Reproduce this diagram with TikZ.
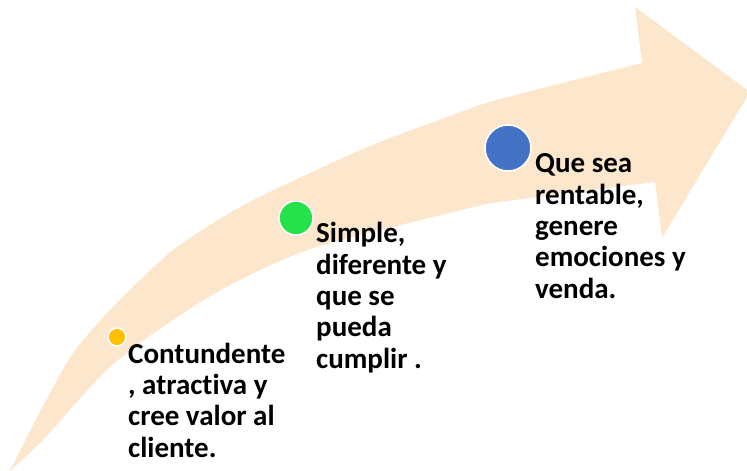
\documentclass[tikz,border=0pt]{standalone}
\usepackage{fontspec}
\setmainfont{Carlito}[Ligatures=NoCommon]
\begin{document}
\begin{tikzpicture}[x=1pt,y=-1pt,
  dot/.style={circle,draw=white,line width=1.5pt,inner sep=0pt},
  lbl/.style={anchor=base west,align=left,inner sep=0pt,font=\fontsize{29}{31.3}\selectfont\bfseries,text=black}]
\definecolor{band}{HTML}{FDE7CC}
\definecolor{dotyellow}{HTML}{FFC000}
\definecolor{dotgreen}{HTML}{26E24A}
\definecolor{dotblue}{HTML}{4472C4}
\useasboundingbox (0,0) rectangle (747,471);
\begin{scope}
\clip (0,0) rectangle (747,471);
\fill[band] plot[smooth,tension=0.5] coordinates {(10,471) (31,429) (50,393) (73,353) (107,313) (140,280) (173,250) (207,227) (240,207) (280,187) (370,146) (450,116) (500,99) (642,63)}
  -- (635,7) -- (750,92) -- (662,238) -- (655,182)
  -- plot[smooth,tension=0.5] coordinates {(655,182) (500,202) (470,208) (330,243) (280,261) (240,280) (207,298) (173,320) (140,343) (110,367) (83,395) (43,440) (10,471)} -- cycle;
\end{scope}
\node[dot,fill=dotyellow,minimum size=18pt] (d1) at (117,337) {};
\node[dot,fill=dotgreen,minimum size=34pt] (d2) at (296,218) {};
\node[dot,fill=dotblue,minimum size=46pt] (d3) at (508,148) {};
% base anchor of a multi-line node is the baseline of its last line
\node[lbl] (t1) at (128,457) {Contundente\\, atract\kern0pt iva y\\cree valor al\\cliente.};
\node[lbl] (t2) at (316,368) {Simple,\\diferente y\\que se\\pueda\\cumplir .};
\node[lbl] (t3) at (535,298) {Que sea\\rentable,\\genere\\emociones y\\venda.};
\end{tikzpicture}
\end{document}
